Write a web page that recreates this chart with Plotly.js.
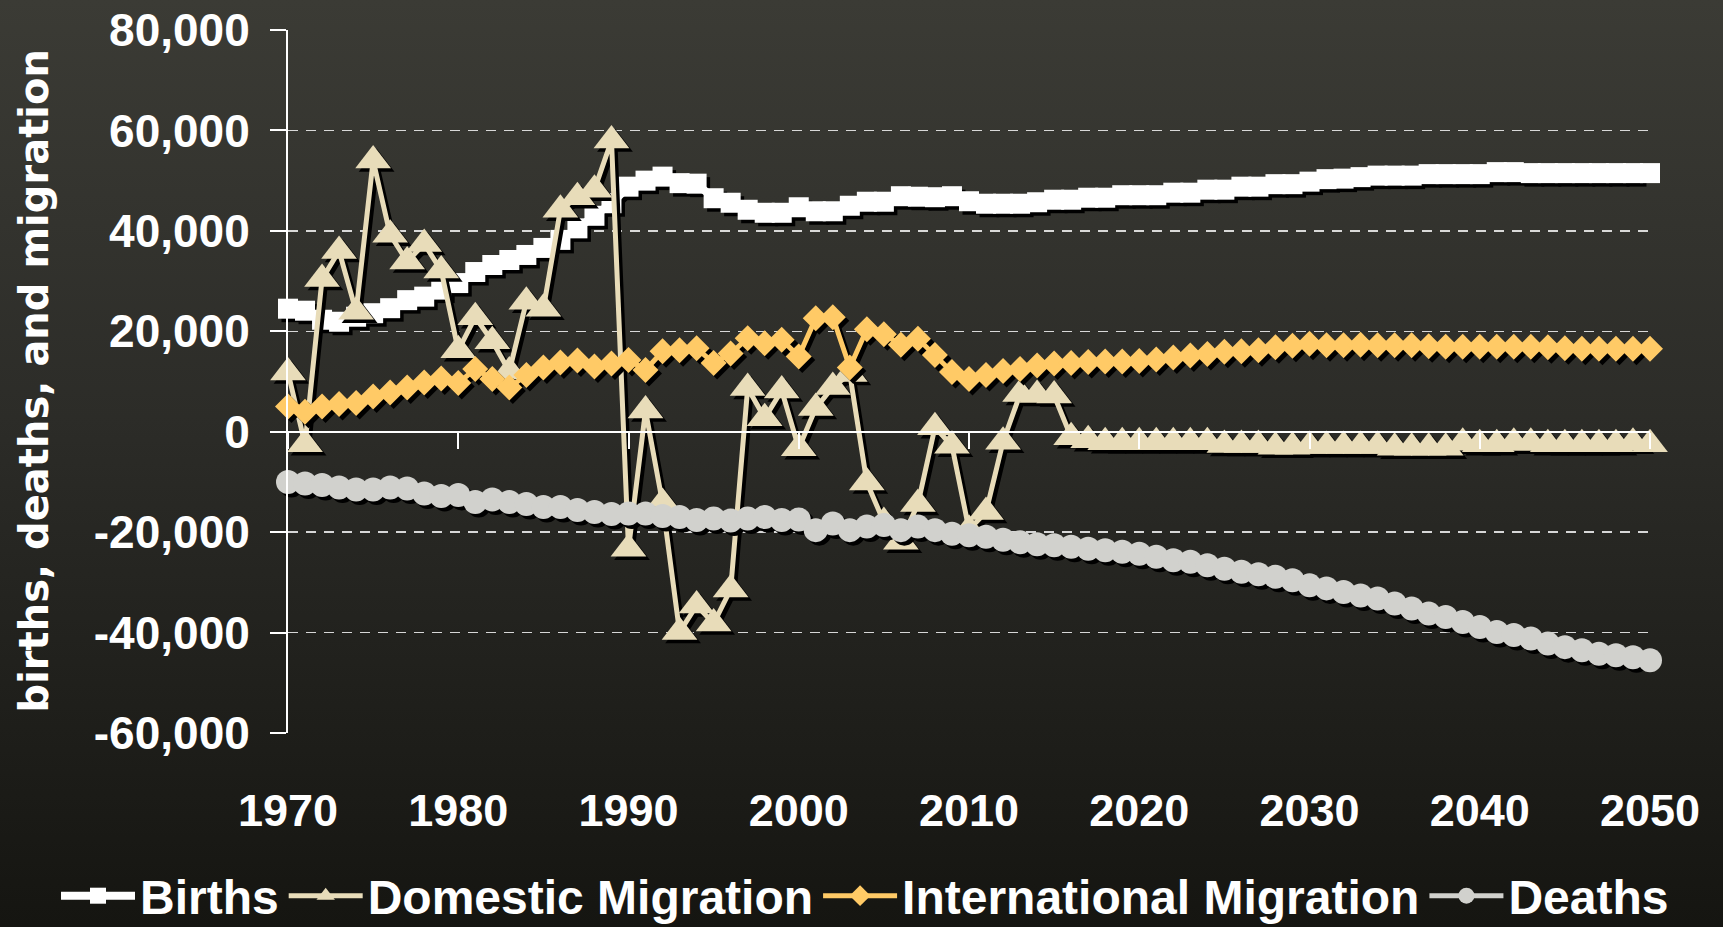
<!DOCTYPE html>
<html>
<head>
<meta charset="utf-8">
<script src="https://cdn.plot.ly/plotly-3.0.1.min.js"></script>
<style>
  html, body { margin: 0; padding: 0; width: 1723px; height: 927px; overflow: hidden;
    background: linear-gradient(to bottom, #3b3b35 0%, #2c2c28 45%, #151511 100%); }
  #chart { width: 1723px; height: 927px; }
</style>
</head>
<body>
<div id="chart"></div>
<script>
const years = [1970,1971,1972,1973,1974,1975,1976,1977,1978,1979,
  1980,1981,1982,1983,1984,1985,1986,1987,1988,1989,
  1990,1991,1992,1993,1994,1995,1996,1997,1998,1999,
  2000,2001,2002,2003,2004,2005,2006,2007,2008,2009,
  2010,2011,2012,2013,2014,2015,2016,2017,2018,2019,
  2020,2021,2022,2023,2024,2025,2026,2027,2028,2029,
  2030,2031,2032,2033,2034,2035,2036,2037,2038,2039,
  2040,2041,2042,2043,2044,2045,2046,2047,2048,2049,2050];

const births = [24500,24100,22300,21900,22900,23600,24600,26200,26900,28300,
  29600,31800,33200,34200,35200,36600,38200,40500,43000,45500,
  48800,50000,50800,49500,49400,46500,45600,44200,43600,43600,
  44700,43900,43900,45000,45800,45800,46900,46800,46700,46900,
  45900,45400,45400,45400,45700,46200,46200,46600,46600,47100,
  47100,47100,47600,47600,48200,48200,48800,48800,49300,49300,
  49800,50300,50400,50700,51000,51000,51000,51300,51300,51300,
  51300,51700,51700,51500,51500,51500,51500,51500,51500,51500,51500];

const domesticMigration = [11800,-2500,30400,36000,23900,54000,39200,33900,37400,32100,
  16200,22800,18000,12000,25900,24500,44200,46700,48200,58000,
  -23300,4200,-14200,-39900,-34600,-38200,-31400,8700,2700,8200,
  -3300,4700,8900,11500,-10100,-18000,-21900,-14400,900,-2800,
  -19500,-16000,-2000,7500,7300,7200,-1100,-1700,-2100,-2100,
  -2100,-2100,-2100,-2100,-2100,-2650,-2650,-2650,-3000,-3000,
  -2850,-2850,-2850,-2850,-2850,-3200,-3200,-3200,-3200,-2200,
  -2500,-2500,-2200,-2200,-2500,-2500,-2500,-2500,-2500,-2200,-2500];

const internationalMigration = [5000,4000,5000,5500,5700,7000,7800,8800,9800,10600,
  9700,12500,10500,8800,11300,12800,13800,14200,13000,13600,
  14300,12300,16000,16200,16600,13700,15600,18600,17600,18300,
  15000,22600,22800,12800,20400,19400,17300,18500,15300,11900,
  10500,11300,12100,12500,13200,13600,13700,13900,14000,14000,
  14100,14400,14800,15200,15500,15900,16000,16200,16800,17100,
  17500,17200,17200,17300,17200,17200,17200,17000,16900,16900,
  16900,16900,16900,16900,16800,16600,16500,16500,16500,16500,16500];

const deaths = [-10000,-10300,-10600,-11100,-11500,-11500,-11100,-11300,-12300,-12800,
  -12600,-14000,-13500,-14000,-14400,-15000,-15000,-15600,-16000,-16400,
  -16300,-16300,-16800,-17000,-17600,-17300,-17700,-17300,-17000,-17600,
  -17500,-19600,-18300,-19600,-18900,-18600,-19600,-18900,-19600,-20300,
  -20600,-20900,-21500,-22000,-22400,-22600,-22900,-23300,-23600,-23900,
  -24300,-24900,-25600,-25900,-26600,-27300,-27900,-28400,-28900,-29600,
  -30600,-31200,-31900,-32600,-33200,-34200,-35200,-36200,-36900,-37900,
  -38900,-39900,-40500,-41200,-42200,-42900,-43500,-44200,-44500,-44900,-45500];

const xTickVals = [1970,1980,1990,2000,2010,2020,2030,2040,2050];
const xTickLabels = ['1970','1980','1990','2000','2010','2020','2030','2040','2050'];
const yTickVals = [-60000,-40000,-20000,0,20000,40000,60000,80000];
const yTickLabels = ['-60,000','-40,000','-20,000','0','20,000','40,000','60,000','80,000'];
const seriesNames = ['Births','Domestic Migration','International Migration','Deaths'];
const yTitle = 'births, deaths, and migration';

// geometry
const W = 1723, H = 927;
const M = {l: 288, r: 73, t: 30, b: 194, autoexpand: false};
const xRange = [1970, 2050], yRange = [-60000, 80000];
const plotW = W - M.l - M.r, plotH = H - M.t - M.b;
const shadowPx = 3.5;
const dxShadow = shadowPx * (xRange[1] - xRange[0]) / plotW;
const dyShadow = shadowPx * (yRange[1] - yRange[0]) / plotH;

const styles = [
  {name: seriesNames[0], y: births, color: '#ffffff', symbol: 'square', size: 20, lw: 8},
  {name: seriesNames[1], y: domesticMigration, color: '#e8dcb9', symbol: 'triangle-up', size: 31, lw: 5},
  {name: seriesNames[2], y: internationalMigration, color: '#ffca66', symbol: 'diamond', size: 20, lw: 5},
  {name: seriesNames[3], y: deaths, color: '#d1d1cd', symbol: 'circle', size: 24, lw: 5}
];

const traces = [];
styles.forEach(s => {
  traces.push({
    x: years.map(v => v + dxShadow), y: s.y.map(v => v - dyShadow),
    type: 'scatter', mode: 'lines+markers', showlegend: false, hoverinfo: 'skip',
    line: {color: '#000000', width: s.lw}, cliponaxis: false,
    marker: {symbol: s.symbol, size: s.size, color: '#000000', line: {width: 0}}
  });
  traces.push({
    x: years, y: s.y, name: s.name,
    type: 'scatter', mode: 'lines+markers', cliponaxis: false,
    line: {color: s.color, width: s.lw},
    marker: {symbol: s.symbol, size: s.size, color: s.color, line: {width: 0}}
  });
});

const font = {family: 'Liberation Sans, Arial, sans-serif', color: '#ffffff', weight: 'bold'};
const zeroFrac = (0 - yRange[0]) / (yRange[1] - yRange[0]);

const layout = {
  width: W, height: H,
  margin: M,
  paper_bgcolor: 'rgba(0,0,0,0)',
  plot_bgcolor: 'rgba(0,0,0,0)',
  showlegend: true,
  xaxis: {
    range: xRange, anchor: 'free', position: zeroFrac,
    tickvals: xTickVals, ticktext: xTickLabels,
    showline: true, linecolor: '#ffffff', linewidth: 2,
    ticks: 'outside', ticklen: 16, tickwidth: 2, tickcolor: '#ffffff',
    showgrid: false, zeroline: false,
    ticklabelstandoff: 323,
    tickfont: Object.assign({}, font, {size: 45})
  },
  yaxis: {
    range: yRange,
    tickvals: yTickVals, ticktext: yTickLabels,
    showline: true, linecolor: '#ffffff', linewidth: 2,
    ticks: 'outside', ticklen: 16, tickwidth: 2, tickcolor: '#ffffff',
    showgrid: true, gridcolor: 'rgba(235,235,235,0.9)', gridwidth: 1.5, griddash: '10px,8px',
    zeroline: false,
    ticklabelstandoff: 11,
    tickfont: Object.assign({}, font, {size: 46})
  },
  annotations: [{
    text: yTitle,
    xref: 'paper', yref: 'paper',
    x: (33 - M.l) / plotW, y: 0.5,
    xanchor: 'center', yanchor: 'middle', textangle: -90, showarrow: false,
    font: {family: 'DejaVu Sans, sans-serif', color: '#ffffff', weight: 'bold', size: 40}
  }],
  legend: {
    orientation: 'h', xref: 'paper', yref: 'paper',
    x: (56 - M.l) / plotW, xanchor: 'left',
    y: (H - M.b - 934) / plotH, yanchor: 'bottom',
    font: Object.assign({}, font, {size: 48}),
    itemwidth: 74, bgcolor: 'rgba(0,0,0,0)', traceorder: 'normal'
  }
};

Plotly.newPlot('chart', traces, layout, {displayModeBar: false, staticPlot: true});
</script>
</body>
</html>
